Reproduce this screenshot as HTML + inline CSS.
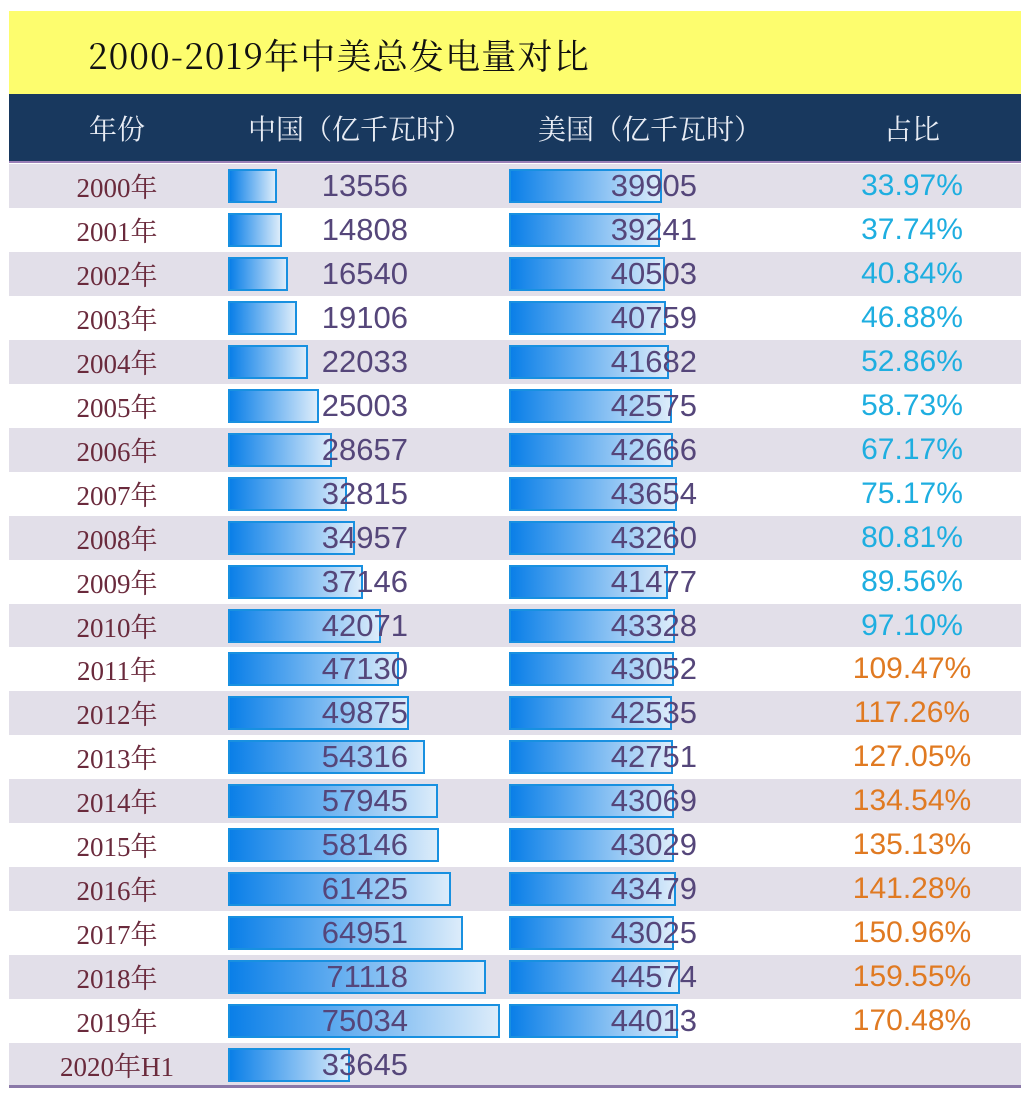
<!DOCTYPE html>
<html><head><meta charset="utf-8"><style>
body{margin:0;width:1034px;height:1098px;background:#fff;position:relative;overflow:hidden;font-family:"Liberation Sans","Noto Sans CJK SC",sans-serif}
.abs{position:absolute}
#banner{left:9px;top:11px;width:1012px;height:83px;background:#fdfd6e}
#title{left:88px;top:30px;font:35px "Noto Serif CJK SC",serif;letter-spacing:1.2px;color:#111}
#header{left:9px;top:94px;width:1012px;height:67px;background:#18385e;border-bottom:2px solid #9a80b8}
.hd{top:108px;font:28px "Noto Serif CJK SC",serif;color:#e8ecf4;transform:translateX(-50%);white-space:nowrap}
.row{left:9px;width:1012px;height:44px}
.yr{font:27px "Liberation Serif","Noto Serif CJK SC",serif;color:#6a2a3c;transform:translateX(-50%);white-space:nowrap}
.bar{height:30px;border:2px solid #1890e0;background:linear-gradient(to right,#0a7fe8,#dcecfa);box-sizing:content-box}
.num{font-size:31px;color:#55467a;text-align:right;width:150px}
.pct{font-size:30px;transform:translateX(-50%)}
#bottom{left:9px;top:1085px;width:1012px;height:3px;background:#8a78a8}
</style></head><body>
<div class="abs" id="banner"></div>
<div class="abs" id="title">2000-2019年中美总发电量对比</div>
<div class="abs" id="header"></div>
<div class="abs hd" style="left:117px">年份</div>
<div class="abs hd" style="left:360px">中国（亿千瓦时）</div>
<div class="abs hd" style="left:650px">美国（亿千瓦时）</div>
<div class="abs hd" style="left:912px">占比</div>
<div id="rows"></div>
<div class="abs" id="bottom"></div>
<script>
const years=["2000年","2001年","2002年","2003年","2004年","2005年","2006年","2007年","2008年","2009年","2010年","2011年","2012年","2013年","2014年","2015年","2016年","2017年","2018年","2019年","2020年H1"];
const china=[13556,14808,16540,19106,22033,25003,28657,32815,34957,37146,42071,47130,49875,54316,57945,58146,61425,64951,71118,75034,33645];
const us=[39905,39241,40503,40759,41682,42575,42666,43654,43260,41477,43328,43052,42535,42751,43069,43029,43479,43025,44574,44013,null];
const ratio=["33.97%","37.74%","40.84%","46.88%","52.86%","58.73%","67.17%","75.17%","80.81%","89.56%","97.10%","109.47%","117.26%","127.05%","134.54%","135.13%","141.28%","150.96%","159.55%","170.48%",""];
const cx=v=>v*272/75034, ux=v=>v*169/44013;
const root=document.getElementById('rows');
years.forEach((y,i)=>{
 const top=164+i*43.95;
 const r=document.createElement('div');r.className='abs row';r.style.top=top+'px';r.style.background=i%2?'#fff':'#e2dfe9';
 
 
 root.appendChild(r);
 const add=(cls,css,txt,name)=>{const e=document.createElement('div');e.className='abs '+cls;e.style.cssText=css;if(txt)e.textContent=txt;
  
  
  root.appendChild(e);};
 add('yr','left:117px;top:'+(top+2)+'px',y,'year-label');
 add('bar','left:228px;top:'+(top+5)+'px;width:'+(cx(china[i])-4)+'px','','china-bar');
 add('num','left:258px;top:'+(top+4)+'px',String(china[i]),'china-value');
 if(us[i]!=null){
  add('bar','left:509px;top:'+(top+5)+'px;width:'+(ux(us[i])-4)+'px','','us-bar');
  add('num','left:547px;top:'+(top+4)+'px',String(us[i]),'us-value');
 }
 if(ratio[i]) add('pct','left:912px;top:'+(top+5)+'px;color:'+(parseFloat(ratio[i])>=100?'#e07a22':'#1eaee0'),ratio[i],'ratio-value');
});
</script>
</body></html>
